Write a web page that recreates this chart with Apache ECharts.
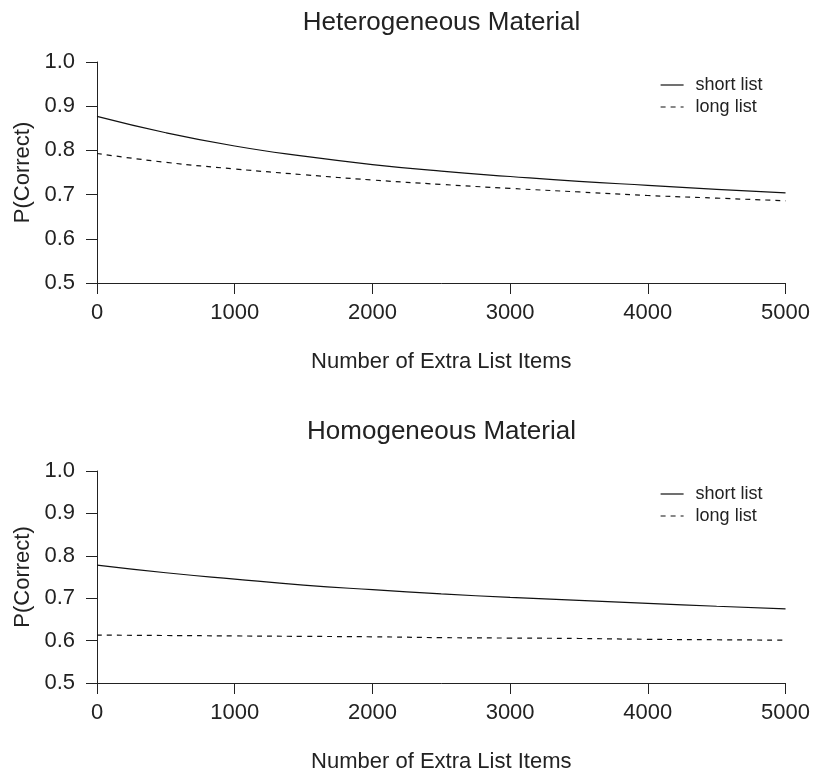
<!DOCTYPE html>
<html><head><meta charset="utf-8">
<script src="https://cdn.jsdelivr.net/npm/echarts@6/dist/echarts.min.js"></script>
<style>html,body{margin:0;padding:0;background:#fff}#c{width:813px;height:774px}</style>
</head><body><div id="c"></div>
<script>
// ---- data ----
const xValues = [0, 500, 1000, 1500, 2000, 2500, 3000, 3500, 4000, 4500, 5000];
const hetShort = [0.877, 0.840, 0.810, 0.787, 0.768, 0.753, 0.741, 0.730, 0.721, 0.712, 0.704];
const hetLong  = [0.793, 0.773, 0.758, 0.745, 0.733, 0.723, 0.714, 0.706, 0.698, 0.692, 0.686];
const homShort = [0.778, 0.760, 0.745, 0.731, 0.720, 0.710, 0.702, 0.695, 0.688, 0.681, 0.675];
const homLong  = [0.613, 0.612, 0.611, 0.610, 0.609, 0.607, 0.606, 0.605, 0.603, 0.602, 0.601];
const panelTitles = ['Heterogeneous Material', 'Homogeneous Material'];
const seriesNames = ['short list', 'long list'];
const xTitle = 'Number of Extra List Items';
const yTitle = 'P(Correct)';

const pairs = (ys) => xValues.map((x, i) => [x, ys[i]]);
const FONT = 'Liberation Sans, Arial, Helvetica, sans-serif';
const TXT = '#222';

const G = [
  {left: 97, top: 62, width: 689, height: 221},
  {left: 97, top: 471, width: 689, height: 221}
];

function xAxis(i) {
  return {
    type: 'value', gridIndex: i, min: 0, max: 5000, interval: 1000,
    name: xTitle, nameLocation: 'middle', nameGap: 68,
    nameTextStyle: {fontFamily: FONT, fontSize: 22, color: TXT},
    axisLine: {show: true, lineStyle: {color: '#222', width: 1}},
    axisTick: {show: true, inside: false, length: 11, lineStyle: {color: '#222'}},
    axisLabel: {fontFamily: FONT, fontSize: 22, color: TXT, margin: 19,
      formatter: v => String(v)},
    splitLine: {show: false}
  };
}
function yAxis(i) {
  return {
    type: 'value', gridIndex: i, min: 0.5, max: 1.0, interval: 0.1,
    name: yTitle, nameLocation: 'middle', nameGap: 62, nameRotate: 90,
    nameTextStyle: {fontFamily: FONT, fontSize: 22, color: TXT},
    axisLine: {show: true, lineStyle: {color: '#222', width: 1}},
    axisTick: {show: true, inside: false, length: 11, lineStyle: {color: '#222'}},
    axisLabel: {fontFamily: FONT, fontSize: 22, color: TXT, margin: 22,
      formatter: v => v.toFixed(1)},
    splitLine: {show: false}
  };
}
function line(name, data, gi, dashed) {
  return {
    name, type: 'line', xAxisIndex: gi, yAxisIndex: gi, data: pairs(data),
    smooth: true, symbol: 'none', silent: true,
    lineStyle: {color: '#111', width: 1.2, type: dashed ? [5, 5] : 'solid'},
    itemStyle: {color: '#111'}
  };
}
function legend(top) {
  return {
    data: seriesNames, orient: 'vertical', left: 660, top: top, padding: 0,
    itemWidth: 23, itemHeight: 12, itemGap: 4, selectedMode: false,
    itemStyle: {opacity: 0},
    lineStyle: {width: 1.2, color: '#111', opacity: 1},
    textStyle: {fontFamily: FONT, fontSize: 18, color: TXT, padding: [0, 0, 0, 7]}
  };
}

const chart = echarts.init(document.getElementById('c'));
chart.setOption({
  animation: false,
  title: panelTitles.map((t, i) => ({
    text: t, left: G[i].left + G[i].width / 2, top: i === 0 ? 10 : 419,
    textAlign: 'center', padding: 0,
    textStyle: {fontFamily: FONT, fontSize: 26, fontWeight: 'normal', color: TXT}
  })),
  legend: [legend(76), legend(485)],
  grid: G,
  xAxis: [xAxis(0), xAxis(1)],
  yAxis: [yAxis(0), yAxis(1)],
  series: [
    line(seriesNames[0], hetShort, 0, false),
    line(seriesNames[1], hetLong, 0, true),
    line(seriesNames[0], homShort, 1, false),
    line(seriesNames[1], homLong, 1, true)
  ]
});
</script></body></html>
